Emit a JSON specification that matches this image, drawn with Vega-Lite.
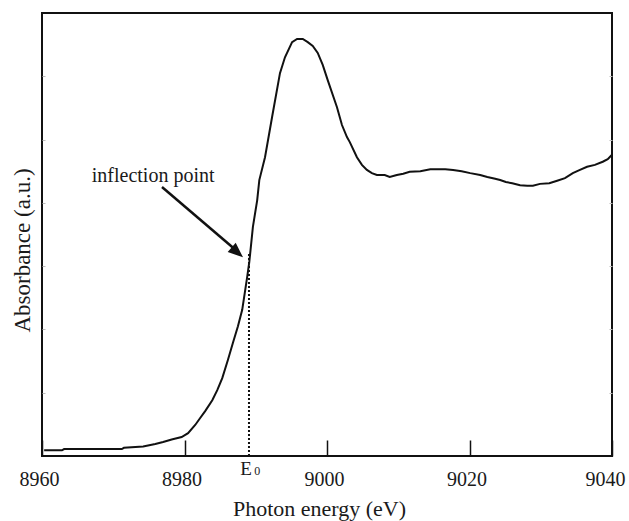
{
  "$schema": "https://vega.github.io/schema/vega-lite/v6.json",
  "width": 570,
  "height": 443,
  "autosize": {"type": "none"},
  "padding": {"left": 42, "top": 13, "right": 17, "bottom": 65},
  "background": "white",
  "config": {
    "view": {"stroke": "#111", "strokeWidth": 2},
    "font": "Liberation Serif",
    "text": {"font": "Liberation Serif", "color": "#1a1a1a"}
  },
  "datasets": {
    "curve": [
      {"E": 8960.3, "A": 0.09}, {"E": 8962.8, "A": 0.09}, {"E": 8963.1, "A": 0.11}, {"E": 8971.2, "A": 0.11},
      {"E": 8971.5, "A": 0.13}, {"E": 8974.2, "A": 0.15}, {"E": 8975.9, "A": 0.19}, {"E": 8977.0, "A": 0.22},
      {"E": 8978.2, "A": 0.26}, {"E": 8979.6, "A": 0.30}, {"E": 8980.5, "A": 0.36}, {"E": 8981.5, "A": 0.49},
      {"E": 8982.2, "A": 0.60}, {"E": 8982.9, "A": 0.71}, {"E": 8983.9, "A": 0.88}, {"E": 8984.6, "A": 1.04},
      {"E": 8985.3, "A": 1.23}, {"E": 8986.1, "A": 1.52}, {"E": 8986.8, "A": 1.79}, {"E": 8987.5, "A": 2.05},
      {"E": 8988.1, "A": 2.31}, {"E": 8988.8, "A": 2.83}, {"E": 8989.1, "A": 3.07}, {"E": 8989.6, "A": 3.62},
      {"E": 8990.2, "A": 4.04}, {"E": 8990.5, "A": 4.36}, {"E": 8991.3, "A": 4.72}, {"E": 8992.3, "A": 5.36},
      {"E": 8993.4, "A": 6.05}, {"E": 8994.1, "A": 6.30}, {"E": 8995.1, "A": 6.54}, {"E": 8995.8, "A": 6.59},
      {"E": 8996.6, "A": 6.59}, {"E": 8997.3, "A": 6.54}, {"E": 8998.0, "A": 6.48}, {"E": 8998.7, "A": 6.37},
      {"E": 8999.4, "A": 6.18}, {"E": 9000.1, "A": 5.94}, {"E": 9001.4, "A": 5.51}, {"E": 9002.1, "A": 5.23},
      {"E": 9002.8, "A": 5.04}, {"E": 9003.2, "A": 4.96}, {"E": 9004.2, "A": 4.72}, {"E": 9004.9, "A": 4.60},
      {"E": 9005.6, "A": 4.52}, {"E": 9006.3, "A": 4.47}, {"E": 9007.0, "A": 4.44}, {"E": 9008.1, "A": 4.44},
      {"E": 9008.8, "A": 4.41}, {"E": 9009.8, "A": 4.44}, {"E": 9010.7, "A": 4.46}, {"E": 9011.6, "A": 4.49},
      {"E": 9013.1, "A": 4.50}, {"E": 9014.5, "A": 4.53}, {"E": 9015.4, "A": 4.53}, {"E": 9016.6, "A": 4.53},
      {"E": 9017.7, "A": 4.52}, {"E": 9018.9, "A": 4.50}, {"E": 9020.1, "A": 4.47}, {"E": 9021.5, "A": 4.44},
      {"E": 9022.5, "A": 4.41}, {"E": 9023.6, "A": 4.38}, {"E": 9024.3, "A": 4.36}, {"E": 9025.1, "A": 4.33},
      {"E": 9026.0, "A": 4.31}, {"E": 9027.1, "A": 4.28}, {"E": 9028.1, "A": 4.27}, {"E": 9028.9, "A": 4.27},
      {"E": 9029.9, "A": 4.30}, {"E": 9031.2, "A": 4.31}, {"E": 9032.3, "A": 4.35}, {"E": 9033.4, "A": 4.39},
      {"E": 9034.5, "A": 4.47}, {"E": 9035.5, "A": 4.52}, {"E": 9036.5, "A": 4.57}, {"E": 9037.6, "A": 4.60},
      {"E": 9038.7, "A": 4.65}, {"E": 9039.4, "A": 4.69}, {"E": 9040.0, "A": 4.76}
    ],
    "edge": [{"E": 8989.05, "A": 0, "A2": 3.2}],
    "arrow": [{"E": 8976.84, "A": 4.25}, {"E": 8987.23, "A": 3.25}],
    "tip": [{"E": 8988.21, "A": 3.14}],
    "labels": [{"E": 8975.6, "A": 4.33, "t": "inflection point"}],
    "e0": [{"E": 8988.63, "A": 0, "t": "E"}],
    "e0sub": [{"E": 8990.2, "A": 0, "t": "0"}]
  },
  "layer": [
    {
      "data": {"name": "curve"},
      "mark": {"type": "line", "color": "#111", "strokeWidth": 2},
      "encoding": {
        "x": {
          "field": "E", "type": "quantitative",
          "scale": {"domain": [8960, 9040], "nice": false, "zero": false},
          "axis": {
            "orient": "bottom", "values": [8960, 8980, 9000, 9020, 9040], "format": "d",
            "title": "Photon energy (eV)", "titleFont": "Liberation Serif", "titleFontSize": 22,
            "titleFontWeight": "normal", "titleColor": "#1a1a1a", "titleBaseline": "top",
            "titleY": 42, "titleX": 277,
            "labelFont": "Liberation Serif", "labelFontSize": 20, "labelColor": "#1a1a1a",
            "labelPadding": 29, "labelFlush": false,
            "labelOffset": {"condition": {"test": "datum.value == 9040", "value": -7}, "value": -3},
            "tickSize": -16, "tickColor": "#111", "tickWidth": 1.5,
            "domain": false, "grid": false
          }
        },
        "y": {
          "field": "A", "type": "quantitative",
          "scale": {"domain": [0, 7], "nice": false, "zero": false},
          "axis": {
            "orient": "left", "values": [1, 2, 3, 4, 5, 6], "labels": false,
            "tickSize": -3, "tickColor": "#bbbbbb", "tickWidth": 1,
            "domain": false, "grid": false,
            "title": "Absorbance (a.u.)", "titleFont": "Liberation Serif", "titleFontSize": 23,
            "titleFontWeight": "normal", "titleColor": "#1a1a1a", "titleAngle": -90,
            "titleBaseline": "middle", "titleAlign": "center", "titleX": -20, "titleY": 237
          }
        }
      }
    },
    {
      "data": {"name": "edge"},
      "mark": {"type": "rule", "color": "#111", "strokeWidth": 2, "strokeDash": [2, 2]},
      "encoding": {
        "x": {"field": "E", "type": "quantitative"},
        "y": {
          "field": "A", "type": "quantitative",
          "axis": {
            "orient": "right", "values": [1, 2, 3, 4, 5, 6], "labels": false, "title": null,
            "tickSize": -3, "tickColor": "#bbbbbb", "tickWidth": 1, "domain": false, "grid": false
          }
        },
        "y2": {"field": "A2"}
      }
    },
    {
      "data": {"name": "arrow"},
      "mark": {"type": "line", "color": "#111", "strokeWidth": 2.5},
      "encoding": {
        "x": {"field": "E", "type": "quantitative"},
        "y": {"field": "A", "type": "quantitative", "axis": null}
      }
    },
    {
      "data": {"name": "tip"},
      "mark": {"type": "point", "filled": true, "color": "#111", "opacity": 1,
               "shape": "M0,0L-0.45,1.1L0.45,1.1Z", "size": 740, "angle": 131, "strokeWidth": 0},
      "encoding": {
        "x": {"field": "E", "type": "quantitative"},
        "y": {"field": "A", "type": "quantitative", "axis": null}
      }
    },
    {
      "data": {"name": "labels"},
      "mark": {"type": "text", "fontSize": 20, "align": "center", "baseline": "alphabetic"},
      "encoding": {
        "x": {"field": "E", "type": "quantitative"},
        "y": {"field": "A", "type": "quantitative", "axis": null},
        "text": {"field": "t"}
      }
    },
    {
      "data": {"name": "e0"},
      "mark": {"type": "text", "fontSize": 19, "align": "center", "baseline": "alphabetic", "dy": 19},
      "encoding": {
        "x": {"field": "E", "type": "quantitative"},
        "y": {"field": "A", "type": "quantitative", "axis": null},
        "text": {"field": "t"}
      }
    },
    {
      "data": {"name": "e0sub"},
      "mark": {"type": "text", "fontSize": 12, "align": "center", "baseline": "alphabetic", "dy": 19},
      "encoding": {
        "x": {"field": "E", "type": "quantitative"},
        "y": {"field": "A", "type": "quantitative", "axis": null},
        "text": {"field": "t"}
      }
    }
  ],
  "resolve": {"axis": {"y": "independent"}}
}
